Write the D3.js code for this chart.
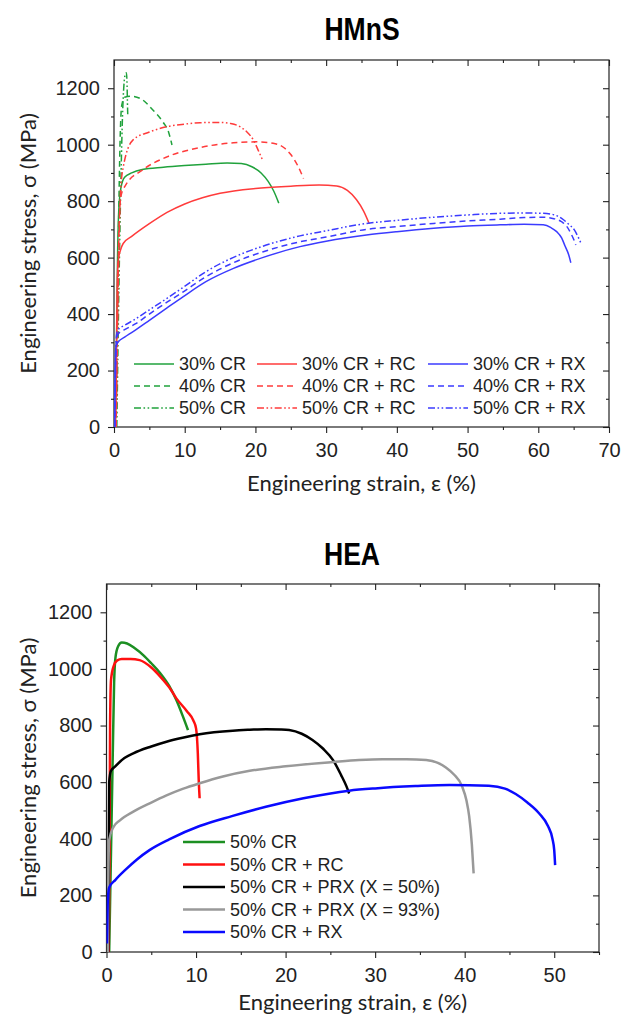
<!DOCTYPE html>
<html>
<head>
<meta charset="utf-8">
<script src="https://cdn.jsdelivr.net/npm/d3@7"></script>
<style>
  body { margin: 0; background: #fff; }
  .tick text { font-family: "Liberation Sans", Arial, sans-serif; font-size: 20px; fill: #222; }
  .tick line { stroke: #222; stroke-width: 1.1; }
  .axis-title { font-family: Lato, "Open Sans", sans-serif; font-size: 22px; fill: #222; }
  .panel-title { font-family: "Liberation Sans", Arial, sans-serif; font-weight: bold; font-size: 32px; fill: #000; }
  .legend text { font-family: "Liberation Sans", Arial, sans-serif; font-size: 18px; fill: #222; }
</style>
</head>
<body>
<div id="chart"></div>
<script>
// ---- data: [engineering strain %, engineering stress MPa] ----
// HMnS
const hmns30CR = [[0.2,0],[0.35,300],[0.5,600],[0.7,780],[1.0,850],[1.5,885],[2.5,900],[4,912],[7,920],[10,926],[13,931],[16,935],[18,933],[19.5,922],[20.8,900],[21.8,870],[22.6,835],[23.3,793]];
const hmns40CR = [[0.3,0],[0.5,400],[0.7,800],[0.9,1050],[1.1,1140],[1.5,1168],[2.3,1172],[3.7,1164],[5.5,1123],[6.9,1081],[7.7,1046],[8.2,999]];
const hmns50CR = [[0.4,0],[0.7,500],[1.0,900],[1.2,1100],[1.4,1210],[1.6,1250],[1.75,1255],[1.85,1210],[1.9,1150],[1.95,1100]];
const hmns30RC = [[0.2,0],[0.35,250],[0.45,500],[0.6,590],[0.9,625],[1.3,650],[2.5,675],[5,720],[7.5,760],[10,790],[12.5,812],[15,828],[20,845],[25,853],[29,857],[31.5,854],[33,838],[34.3,805],[35.3,765],[36.1,720]];
const hmns40RC = [[0.3,0],[0.5,400],[0.7,700],[1.0,820],[1.6,855],[4,910],[7.5,957],[12.2,990],[16.9,1007],[20.2,1010],[22.5,1005],[24,990],[25,965],[26,925],[26.8,880]];
const hmns50RC = [[0.3,0],[0.6,500],[0.9,820],[1.3,920],[2.7,1017],[5,1045],[7.5,1064],[10,1073],[12.2,1078],[15,1079],[16.5,1075],[17.8,1064],[18.8,1045],[19.7,1017],[20.4,980],[21,946]];
const hmns30RX = [[0.1,0],[0.15,150],[0.25,280],[0.6,302],[1.5,318],[2.7,338],[5,378],[7.5,422],[9.8,462],[13,515],[16.9,562],[21,600],[26.3,639],[30,658],[35.7,680],[40,692],[45.2,704],[50,712],[54.6,716],[58,718],[60.7,716],[61.8,706],[62.6,692],[63.3,670],[63.8,640],[64.3,610],[64.6,582]];
const hmns40RX = [[0.1,0],[0.2,180],[0.35,310],[0.6,330],[1.5,345],[3,365],[5,400],[7.5,442],[9.8,479],[13,532],[16.9,582],[21,620],[26.3,656],[30,673],[35.7,700],[40,710],[45.2,721],[50,730],[54.6,736],[58,742],[60.7,743],[62.2,738],[63.3,727],[64.1,708],[64.6,686],[65,665],[65.3,645]];
const hmns50RX = [[0.1,0],[0.2,200],[0.35,325],[0.6,345],[1.5,360],[3,382],[5,415],[7.5,456],[9.8,495],[13,550],[16.9,601],[21,640],[26.3,677],[30,695],[35.7,721],[40,732],[45.2,743],[50,751],[54.6,757],[58,758],[60.7,757],[62.2,752],[63.3,739],[64.3,718],[65.1,698],[65.6,675],[66.0,653]];
// HEA
const hea50CR = [[0.3,0],[0.5,350],[0.7,700],[0.85,950],[1.0,1040],[1.3,1080],[1.7,1093],[2.3,1090],[3.2,1072],[4.1,1049],[5,1020],[6,985],[7,940],[7.8,890],[8.5,835],[9.1,784]];
const hea50RC = [[0.25,0],[0.35,400],[0.4,800],[0.5,960],[0.8,1010],[1.2,1030],[1.7,1035],[2.7,1035],[3.7,1031],[5,1005],[6,973],[7,935],[7.8,896],[9,850],[9.7,818],[10.0,790],[10.2,700],[10.3,607],[10.4,543]];
const hea50PRX50 = [[0.2,0],[0.25,300],[0.3,600],[0.5,640],[0.95,655],[2,685],[3,702],[5,726],[6.7,743],[8.5,757],[10.4,769],[12,776],[14.1,782],[16,785],[17.8,787],[19.5,786],[20.4,784],[21.8,771],[23,749],[24.2,718],[25.3,678],[26.2,625],[26.8,585],[27.1,560]];
const hea50PRX93 = [[0.15,0],[0.2,250],[0.3,395],[0.75,440],[1.5,465],[3,496],[5,528],[6.7,553],[8.5,576],[10.4,596],[13,620],[16,640],[20,656],[25.3,671],[28.2,678],[30.8,681],[33.5,681],[35.7,678],[37,668],[37.9,652],[38.8,627],[39.7,586],[40.2,535],[40.5,480],[40.8,380],[41,278]];
const hea50RX = [[0.05,30],[0.1,120],[0.15,184],[0.3,228],[1,255],[2.1,290],[3.4,327],[4.8,360],[7,398],[10.4,445],[14,480],[17.8,513],[22,543],[27.1,570],[30,578],[34.5,586],[38.3,590],[42.7,587],[44.5,577],[45.7,558],[47,528],[48.3,490],[49.3,445],[49.8,400],[50,360],[50.1,307]];

// ---- series labels and ticks ----
const hmnsLabels = ["30% CR", "40% CR", "50% CR", "30% CR + RC", "40% CR + RC", "50% CR + RC", "30% CR + RX", "40% CR + RX", "50% CR + RX"];
const heaLabels = ["50% CR", "50% CR + RC", "50% CR + PRX (X = 50%)", "50% CR + PRX (X = 93%)", "50% CR + RX"];
const hmnsStrainTicks = [0, 10, 20, 30, 40, 50, 60, 70];
const heaStrainTicks = [0, 10, 20, 30, 40, 50];
const stressTicks = [0, 200, 400, 600, 800, 1000, 1200];

const W = 622, H = 1019;
const svg = d3.select("#chart").append("svg").attr("width", W).attr("height", H);

const DASH = "6,4";
const DDOT = "7,2.5,1.6,2.5,1.6,2.5";

function drawPanel(p) {
  const x = d3.scaleLinear().domain(p.xDomain).range([p.left, p.right]);
  const y = d3.scaleLinear().domain([0, 1300]).range([p.bottom, p.top]);
  const g = svg.append("g");

  // title (condensed bold look)
  g.append("text").attr("class", "panel-title")
    .attr("transform", `translate(${p.titleX},${p.titleY}) scale(0.83,1)`)
    .attr("text-anchor", "middle").text(p.title);

  const xMinor = d3.range(p.xDomain[0], p.xDomain[1] + 0.1, 5).filter(v => v % 10 !== 0);
  const yMinor = d3.range(100, 1300, 200);

  // bottom + left axes (outward ticks with labels)
  g.append("g").attr("transform", `translate(0,${p.bottom})`)
    .call(d3.axisBottom(x).tickValues(p.xTicks).tickSize(6).tickPadding(10).tickFormat(d3.format("d")));
  g.append("g").attr("transform", `translate(0,${p.bottom})`)
    .call(d3.axisBottom(x).tickValues(xMinor).tickSize(3).tickFormat(""));
  g.append("g").attr("transform", `translate(${p.left},0)`)
    .call(d3.axisLeft(y).tickValues(stressTicks).tickSize(6).tickPadding(8).tickFormat(d3.format("d")));
  g.append("g").attr("transform", `translate(${p.left},0)`)
    .call(d3.axisLeft(y).tickValues(yMinor).tickSize(3).tickFormat(""));

  // mirror axes (inward ticks)
  g.append("g").attr("transform", `translate(0,${p.top})`)
    .call(d3.axisTop(x).tickValues(p.xTicks).tickSize(-6).tickFormat(""));
  g.append("g").attr("transform", `translate(0,${p.top})`)
    .call(d3.axisTop(x).tickValues(xMinor).tickSize(-3).tickFormat(""));
  g.append("g").attr("transform", `translate(${p.right},0)`)
    .call(d3.axisRight(y).tickValues(stressTicks).tickSize(-6).tickFormat(""));
  g.append("g").attr("transform", `translate(${p.right},0)`)
    .call(d3.axisRight(y).tickValues(yMinor).tickSize(-3).tickFormat(""));
  g.selectAll(".domain").remove();

  // frame
  g.append("rect")
    .attr("x", p.left).attr("y", p.top)
    .attr("width", p.right - p.left).attr("height", p.bottom - p.top)
    .attr("fill", "none").attr("stroke", "#222").attr("stroke-width", 1.2);

  // axis titles
  g.append("text").attr("class", "axis-title")
    .attr("x", (p.left + p.right) / 2).attr("y", p.xTitleY)
    .attr("text-anchor", "middle").text("Engineering strain, ε (%)");
  g.append("text").attr("class", "axis-title")
    .attr("transform", `translate(${p.yTitleX},${(p.top + p.bottom) / 2}) rotate(-90)`)
    .attr("text-anchor", "middle").text("Engineering stress, σ (MPa)");

  // curves
  const clipId = "clip-" + p.title;
  svg.append("clipPath").attr("id", clipId).append("rect")
    .attr("x", p.left).attr("y", p.top)
    .attr("width", p.right - p.left).attr("height", p.bottom - p.top);

  const line = d3.line().x(d => x(d[0])).y(d => y(d[1])).curve(d3.curveMonotoneX);
  const curves = g.append("g").attr("clip-path", `url(#${clipId})`);
  p.series.forEach(s => {
    curves.append("path")
      .attr("d", line(s.data))
      .attr("fill", "none")
      .attr("stroke", s.color)
      .attr("stroke-width", p.lineWidth)
      .attr("stroke-dasharray", s.dash || null)
      .attr("stroke-linejoin", "round");
  });

  // legend
  const lg = g.append("g").attr("class", "legend");
  p.series.forEach((s, i) => {
    const pos = p.legendPos(i);
    lg.append("line")
      .attr("x1", pos.x).attr("x2", pos.x + p.legendLine)
      .attr("y1", pos.y).attr("y2", pos.y)
      .attr("stroke", s.color).attr("stroke-width", p.lineWidth)
      .attr("stroke-dasharray", s.dash || null);
    lg.append("text")
      .attr("x", pos.x + p.legendLine + 5).attr("y", pos.y)
      .attr("dy", "0.35em").text(s.label);
  });
}

const gHM = "#20a23c", rHM = "#ff3b3b", bHM = "#3b3bff";

drawPanel({
  title: "HMnS", titleX: 362, titleY: 40,
  left: 114, right: 609, top: 60, bottom: 427,
  xDomain: [0, 70], xTicks: hmnsStrainTicks, yTitleX: 36, xTitleY: 491,
  lineWidth: 1.5, legendLine: 40,
  legendPos: i => ({ x: [134, 257, 428][Math.floor(i / 3)], y: [364, 386, 408][i % 3] }),
  series: [
    { label: hmnsLabels[0], data: hmns30CR, color: gHM },
    { label: hmnsLabels[1], data: hmns40CR, color: gHM, dash: DASH },
    { label: hmnsLabels[2], data: hmns50CR, color: gHM, dash: DDOT },
    { label: hmnsLabels[3], data: hmns30RC, color: rHM },
    { label: hmnsLabels[4], data: hmns40RC, color: rHM, dash: DASH },
    { label: hmnsLabels[5], data: hmns50RC, color: rHM, dash: DDOT },
    { label: hmnsLabels[6], data: hmns30RX, color: bHM },
    { label: hmnsLabels[7], data: hmns40RX, color: bHM, dash: DASH },
    { label: hmnsLabels[8], data: hmns50RX, color: bHM, dash: DDOT }
  ]
});

drawPanel({
  title: "HEA", titleX: 352, titleY: 565,
  left: 106.5, right: 599, top: 584, bottom: 952,
  xDomain: [0, 55], xTicks: heaStrainTicks, yTitleX: 36, xTitleY: 1010,
  lineWidth: 2.5, legendLine: 42,
  legendPos: i => ({ x: 183, y: 842 + i * 22.5 }),
  series: [
    { label: heaLabels[0], data: hea50CR, color: "#1c8f22" },
    { label: heaLabels[1], data: hea50RC, color: "#ff1010" },
    { label: heaLabels[2], data: hea50PRX50, color: "#000000" },
    { label: heaLabels[3], data: hea50PRX93, color: "#999999" },
    { label: heaLabels[4], data: hea50RX, color: "#0a0aff" }
  ]
});
</script>
</body>
</html>
